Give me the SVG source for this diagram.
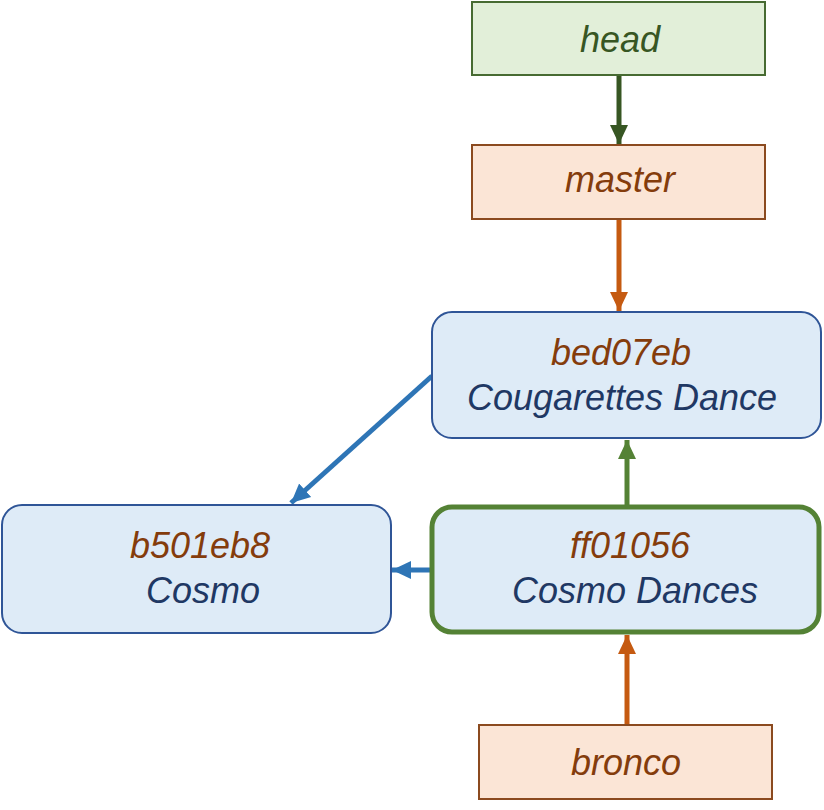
<svg xmlns="http://www.w3.org/2000/svg" width="824" height="810" viewBox="0 0 824 810">
<style>
text{font-family:"Liberation Sans",Arial,sans-serif;font-style:italic;font-size:36px;text-anchor:middle}
.ref{fill:#843c0c}
.msg{fill:#1f3864}
.hd{fill:#375623}
.refbox{fill:#fbe5d6;stroke:#8b4a1f;stroke-width:2}
.hdbox{fill:#e2efd9;stroke:#476b32;stroke-width:2}
.commit{fill:#deebf7;stroke:#2f5597;stroke-width:2}
.cur{fill:#deebf7;stroke:#548235;stroke-width:5}
.c{fill:none;stroke-width:5}
</style>
<defs>
<marker id="aG" markerUnits="userSpaceOnUse" markerWidth="20" markerHeight="20" refX="19" refY="10" orient="auto" viewBox="0 0 20 20"><path d="M0,1 L19,10 L0,19 z" fill="#375623"/></marker>
<marker id="aO" markerUnits="userSpaceOnUse" markerWidth="20" markerHeight="20" refX="19" refY="10" orient="auto" viewBox="0 0 20 20"><path d="M0,1 L19,10 L0,19 z" fill="#c55a11"/></marker>
<marker id="aL" markerUnits="userSpaceOnUse" markerWidth="20" markerHeight="20" refX="19" refY="10" orient="auto" viewBox="0 0 20 20"><path d="M0,1 L19,10 L0,19 z" fill="#548235"/></marker>
<marker id="aB" markerUnits="userSpaceOnUse" markerWidth="20" markerHeight="20" refX="19" refY="10" orient="auto" viewBox="0 0 20 20"><path d="M0,1 L19,10 L0,19 z" fill="#2e75b6"/></marker>
</defs>
<g id="connectors">
<line class="c" x1="619" y1="76" x2="619" y2="144" stroke="#375623" marker-end="url(#aG)"/>
<line class="c" x1="619" y1="220" x2="619" y2="311" stroke="#c55a11" marker-end="url(#aO)"/>
<line class="c" x1="627" y1="506" x2="627" y2="440" stroke="#548235" marker-end="url(#aL)"/>
<line class="c" x1="627" y1="724" x2="627" y2="635" stroke="#c55a11" marker-end="url(#aO)"/>
<line class="c" x1="431" y1="570" x2="392" y2="570" stroke="#2e75b6" marker-end="url(#aB)"/>
<line class="c" x1="432" y1="376" x2="291" y2="503" stroke="#2e75b6" marker-end="url(#aB)"/>
</g>
<g id="head">
<rect class="hdbox" x="472" y="2" width="293" height="73"/>
<text class="hd" x="620" y="52">head</text>
</g>
<g id="master">
<rect class="refbox" x="472" y="145" width="293" height="74"/>
<text class="ref" x="620" y="192">master</text>
</g>
<g id="bed07eb">
<rect class="commit" x="432" y="312" width="389" height="126" rx="20"/>
<text class="ref" x="621" y="365">bed07eb</text>
<text class="msg" x="622" y="410">Cougarettes Dance</text>
</g>
<g id="b501eb8">
<rect class="commit" x="2" y="505" width="389" height="128" rx="20"/>
<text class="ref" x="200" y="558">b501eb8</text>
<text class="msg" x="203" y="603">Cosmo</text>
</g>
<g id="ff01056">
<rect class="cur" x="432" y="507" width="387" height="125" rx="20"/>
<text class="ref" x="630" y="558">ff01056</text>
<text class="msg" x="635" y="603">Cosmo Dances</text>
</g>
<g id="bronco">
<rect class="refbox" x="479" y="725" width="293" height="74"/>
<text class="ref" x="626" y="775">bronco</text>
</g>
</svg>
